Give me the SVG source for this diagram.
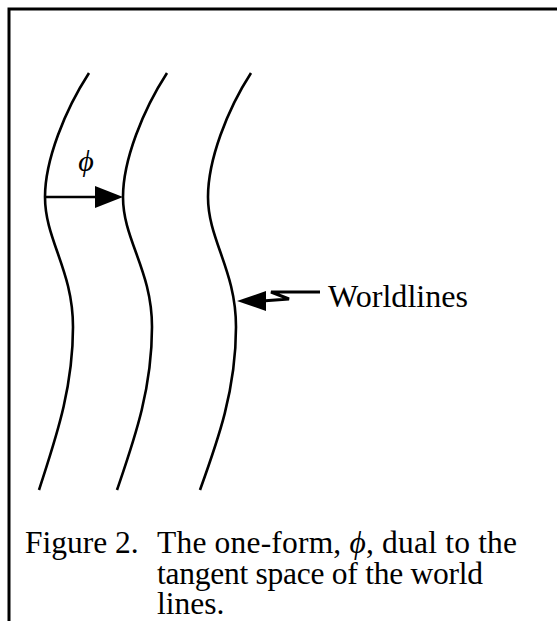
<svg xmlns="http://www.w3.org/2000/svg" width="557" height="621" viewBox="0 0 557 621">
<style>
.ln{fill:none;stroke:#000;stroke-width:2.6;stroke-linecap:butt}
.tx{font-family:"Liberation Serif","Times New Roman",serif;font-size:31.5px;fill:#000}
.ph{font-family:"Liberation Serif","DejaVu Serif","Times New Roman",serif;font-style:italic;fill:#000}
</style>
<rect width="557" height="621" fill="#fff"/>
<g id="frame"><polyline class="ln" points="9,621 9,9 557,9" style="stroke-width:3"/></g>
<g id="worldline1"><path class="ln" d="M89,73 C65,110 45,160 45,197 C45,240 73,270 73,327 C73,390 55,440 39,490"/></g>
<g id="worldline2"><path class="ln" d="M167,73 C143,110 123,160 123,197 C123,240 152,270 152,327 C152,390 134,440 117,490"/></g>
<g id="worldline3"><path class="ln" d="M251,73 C227,110 208,160 208,197 C208,240 236,270 236,327 C236,390 218,440 200,490"/></g>
<g id="phi-label"><text class="ph" x="86" y="171" font-size="30" text-anchor="middle">ϕ</text></g>
<g id="worldlines-label"><text class="tx" x="328" y="307" font-size="32" textLength="140" lengthAdjust="spacingAndGlyphs">Worldlines</text></g>
<g id="connectors">
<line class="ln" x1="45" y1="197" x2="98" y2="197"/>
<polygon points="123,197 95,186 95,208" fill="#000"/>
<polyline class="ln" points="320,292 271,292 289,299 262,301" style="stroke-width:3"/>
<polygon points="237,301 266,291 266,311" fill="#000"/>
</g>
<g id="caption">
<text class="tx" x="25" y="553">Figure 2.</text>
<text class="tx" x="157" y="553" textLength="360" lengthAdjust="spacing">The one-form, <tspan class="ph">ϕ</tspan>, dual to the</text>
<text class="tx" x="157" y="584" textLength="326" lengthAdjust="spacing">tangent space of the world</text>
<text class="tx" x="157" y="614">lines.</text>
</g>
</svg>
